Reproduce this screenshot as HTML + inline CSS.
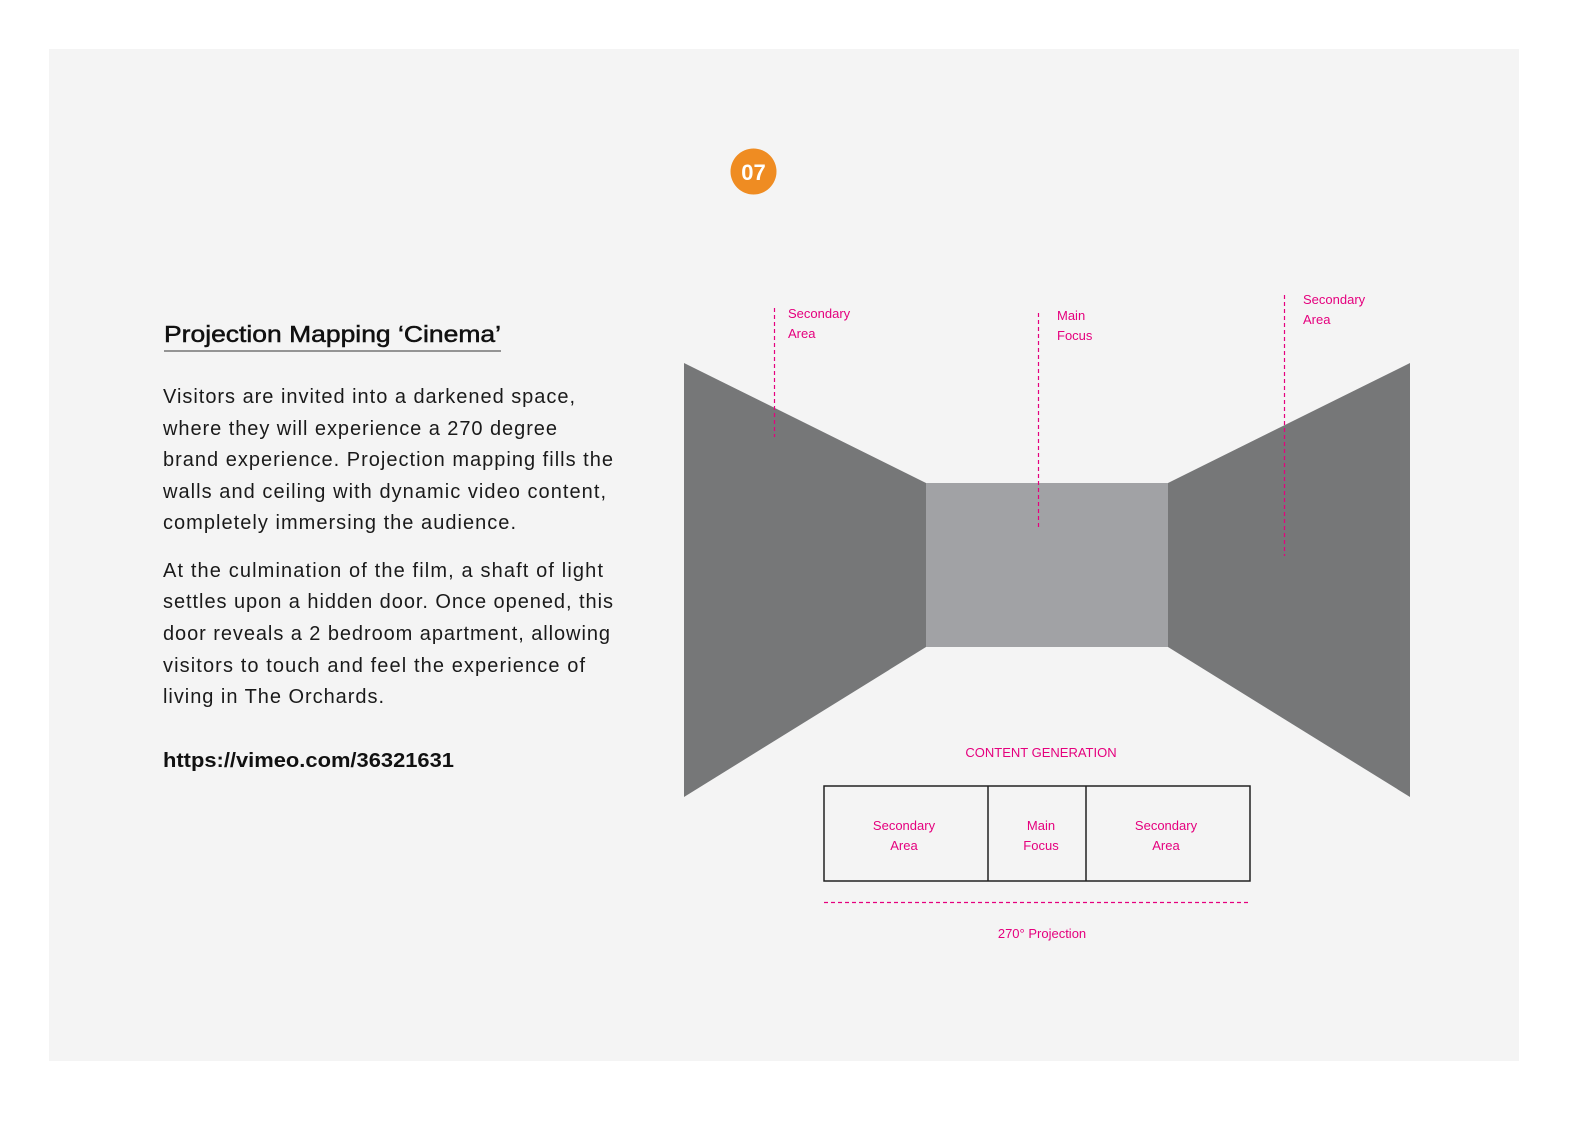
<!DOCTYPE html>
<html><head><meta charset="utf-8"><style>
html,body{margin:0;padding:0;background:#fff;overflow:hidden;width:1587px;height:1123px}
svg{display:block;position:absolute;left:0;top:0;width:1587px;height:1123px}
</style></head><body>
<svg width="1587" height="1123" viewBox="0 0 1587 1123" xmlns="http://www.w3.org/2000/svg" font-family="Liberation Sans, sans-serif">
<rect x="49" y="49" width="1470" height="1012" fill="#f4f4f4"/>
<circle cx="753.5" cy="171.5" r="23" fill="#ef8c22"/>
<text x="753.5" y="180" font-size="22" font-weight="bold" fill="#fff" text-anchor="middle">07</text>

<text x="164" y="342" font-size="23" fill="#111" stroke="#111" stroke-width="0.5" textLength="337" lengthAdjust="spacingAndGlyphs">Projection Mapping ‘Cinema’</text>
<line x1="164" y1="351" x2="501" y2="351" stroke="#333" stroke-width="1"/>
<g font-size="20" fill="#1a1a1a" lengthAdjust="spacingAndGlyphs">
<text x="163" y="403" textLength="412">Visitors are invited into a darkened space,</text>
<text x="163" y="435" textLength="394">where they will experience a 270 degree</text>
<text x="163" y="466" textLength="450">brand experience. Projection mapping fills the</text>
<text x="163" y="498" textLength="443">walls and ceiling with dynamic video content,</text>
<text x="163" y="529" textLength="353">completely immersing the audience.</text>
<text x="163" y="577" textLength="440">At the culmination of the film, a shaft of light</text>
<text x="163" y="608" textLength="450">settles upon a hidden door. Once opened, this</text>
<text x="163" y="640" textLength="447">door reveals a 2 bedroom apartment, allowing</text>
<text x="163" y="672" textLength="422">visitors to touch and feel the experience of</text>
<text x="163" y="703" textLength="221">living in The Orchards.</text>
</g>
<text x="163" y="767" font-size="20" font-weight="bold" fill="#111" textLength="291" lengthAdjust="spacingAndGlyphs">https://vimeo.com/36321631</text>

<polygon points="684,363 926,483 926,647 684,797" fill="#767778"/>
<polygon points="1410,363 1168,483 1168,647 1410,797" fill="#767778"/>
<rect x="926" y="483" width="242" height="164" fill="#a1a2a5"/>

<g stroke="#e5007e" stroke-width="1.2" stroke-dasharray="4,3" fill="none">
<line x1="774.5" y1="308" x2="774.5" y2="437"/>
<line x1="1038.5" y1="313" x2="1038.5" y2="527"/>
<line x1="1284.5" y1="295" x2="1284.5" y2="556"/>
<line x1="824" y1="902.5" x2="1250" y2="902.5"/>
</g>
<g font-size="13" fill="#e5007e">
<text x="788" y="318">Secondary</text><text x="788" y="338">Area</text>
<text x="1057" y="320">Main</text><text x="1057" y="340">Focus</text>
<text x="1303" y="304">Secondary</text><text x="1303" y="324">Area</text>
<text x="1041" y="757" text-anchor="middle">CONTENT GENERATION</text>
<text x="904" y="830" text-anchor="middle">Secondary</text><text x="904" y="850" text-anchor="middle">Area</text>
<text x="1041" y="830" text-anchor="middle">Main</text><text x="1041" y="850" text-anchor="middle">Focus</text>
<text x="1166" y="830" text-anchor="middle">Secondary</text><text x="1166" y="850" text-anchor="middle">Area</text>
<text x="1042" y="938" text-anchor="middle">270° Projection</text>
</g>
<g fill="none" stroke="#222" stroke-width="1.5">
<rect x="824" y="786" width="426" height="95"/>
<line x1="988" y1="786" x2="988" y2="881"/>
<line x1="1086" y1="786" x2="1086" y2="881"/>
</g>
</svg>
</body></html>
